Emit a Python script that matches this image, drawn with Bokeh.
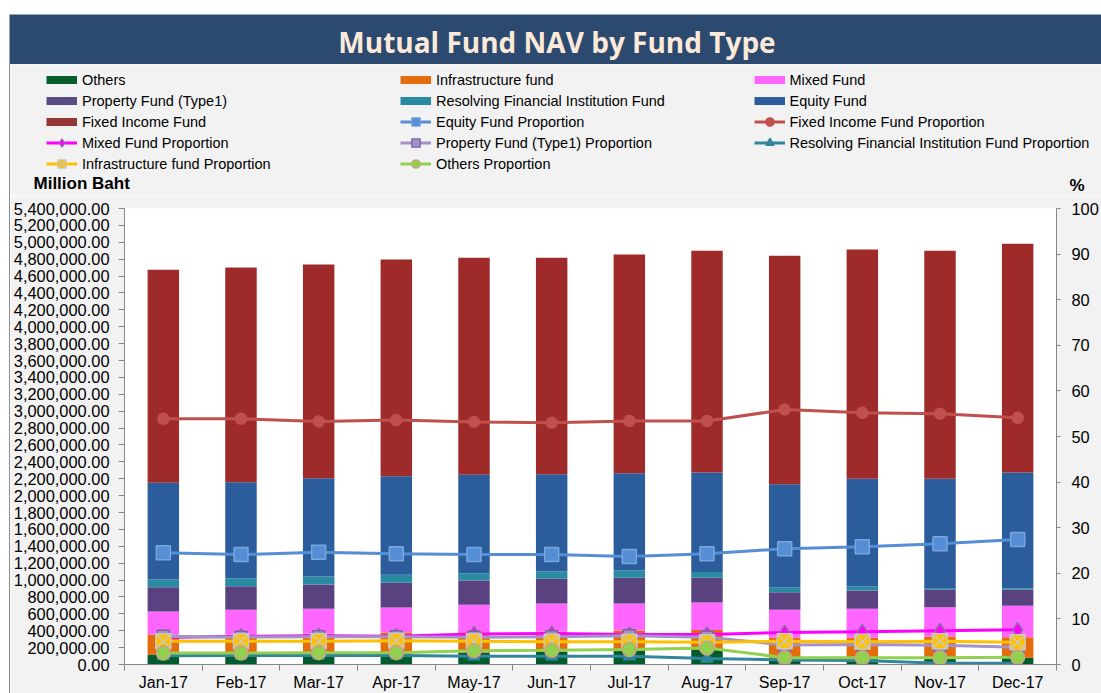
from bokeh.plotting import figure
from bokeh.layouts import column, row
from bokeh.models import (ColumnDataSource, Range1d, LinearAxis, FixedTicker,
                          NumeralTickFormatter, Legend, LegendItem, Label, Spacer)
from bokeh.embed import file_html
from bokeh.resources import INLINE

# ---------------- data ----------------
months = ["Jan-17", "Feb-17", "Mar-17", "Apr-17", "May-17", "Jun-17",
          "Jul-17", "Aug-17", "Sep-17", "Oct-17", "Nov-17", "Dec-17"]

others      = [118000, 118000, 120000, 120000, 140000, 150000, 160000, 180000, 70000, 75000, 75000, 80000]
infra       = [237000, 237000, 243000, 259000, 243000, 241000, 243000, 230000, 246000, 241000, 257000, 244000]
mixed       = [273000, 293000, 296000, 296000, 324000, 331000, 319000, 324000, 332000, 343000, 347000, 371000]
property1   = [288000, 280000, 288000, 292000, 288000, 293000, 304000, 292000, 209000, 217000, 205000, 189000]
resolving   = [91000, 94000, 95000, 95000, 87000, 86000, 87000, 68000, 59000, 52000, 14000, 20000]
equity      = [1144000, 1137000, 1165000, 1168000, 1164000, 1153000, 1153000, 1180000, 1219000, 1271000, 1303000, 1370000]
fixed       = [2523000, 2543000, 2530000, 2566000, 2570000, 2562000, 2590000, 2625000, 2705000, 2716000, 2700000, 2708000]

equity_pct    = [24.5, 24.1, 24.6, 24.3, 24.1, 24.1, 23.7, 24.3, 25.4, 25.8, 26.5, 27.4]
fixed_pct     = [53.9, 53.9, 53.3, 53.6, 53.2, 53.0, 53.4, 53.4, 55.9, 55.2, 55.0, 54.1]
mixed_pct     = [5.9, 6.2, 6.3, 6.2, 6.7, 6.8, 6.6, 6.6, 7.0, 7.2, 7.4, 7.6]
property_pct  = [6.2, 6.0, 6.1, 6.1, 6.0, 6.1, 6.3, 6.0, 4.3, 4.4, 4.2, 3.8]
resolving_pct = [1.9, 2.0, 2.0, 2.0, 1.8, 1.8, 1.8, 1.3, 1.0, 0.9, 0.3, 0.3]
infra_pct     = [5.1, 5.1, 5.1, 5.2, 5.1, 5.0, 5.0, 4.9, 5.1, 5.0, 5.1, 4.9]
others_pct    = [2.5, 2.5, 2.6, 2.6, 3.0, 3.1, 3.3, 3.6, 1.5, 1.5, 1.5, 1.6]

left_ticks = list(range(0, 5400001, 200000))
right_ticks = list(range(0, 101, 10))

TITLE = "Mutual Fund NAV by Fund Type"
Y_LEFT_LABEL = "Million Baht"
Y_RIGHT_LABEL = "%"

bar_names = ["Others", "Infrastructure fund", "Mixed Fund", "Property Fund (Type1)",
             "Resolving Financial Institution Fund", "Equity Fund", "Fixed Income Fund"]

W = 1101
LS = 10            # left white strip + border line
WI = W - LS        # inner width
GRAY = "#f2f2f2"
AX = "#868686"
FONT = "Liberation Sans"

# ---------------- title strip ----------------
TH = 64
ft = figure(width=W, height=TH, output_backend="svg", toolbar_location=None,
            x_range=Range1d(0, 1), y_range=Range1d(0, 1),
            x_axis_type=None, y_axis_type=None,
            min_border_top=14, min_border_left=9, min_border_right=0, min_border_bottom=0)
ft.frame_align = False
ft.background_fill_color = "#2c4a6f"
ft.border_fill_color = "#ffffff"
ft.outline_line_color = None
ft.xgrid.visible = False
ft.ygrid.visible = False
ft.add_layout(Label(x=556.5 - 9, y=23, x_units="screen", y_units="screen",
                    text=TITLE, text_align="center", text_baseline="middle",
                    text_font="Open Sans", text_font_style="bold",
                    text_font_size="28px", text_color="#fde9d9"))

# ---------------- legend strip ----------------
LH = 131
fl = figure(width=WI, height=LH, output_backend="svg", toolbar_location=None,
            x_range=Range1d(0, 1), y_range=Range1d(0, 1),
            x_axis_type=None, y_axis_type=None,
            min_border_top=0, min_border_left=0, min_border_right=0, min_border_bottom=0)
fl.frame_align = False
fl.background_fill_color = GRAY
fl.border_fill_color = GRAY
fl.outline_line_color = None
fl.xgrid.visible = False
fl.ygrid.visible = False

legend_bar_colors = ["#0a5c2c", "#e46c0a", "#ff66ff", "#5c4a84", "#2a8aa2", "#2b5c9c", "#953735"]

line_specs = [
    ("Equity Fund Proportion", "equity_pct", "#558ed5", "square", 14, "#558ed5", "#7aa6e0"),
    ("Fixed Income Fund Proportion", "fixed_pct", "#c0504d", "circle", 11, "#c0504d", "#c0504d"),
    ("Mixed Fund Proportion", "mixed_pct", "#ff00ff", "diamond", 15, "#ff00ff", "#8f6fa8"),
    ("Property Fund (Type1) Proportion", "property_pct", "#a393c8", "square", 12, "#a393c8", "#7a62a3"),
    ("Resolving Financial Institution Fund Proportion", "resolving_pct", "#31859c", "triangle", 12, "#31859c", "#31859c"),
    ("Infrastructure fund Proportion", "infra_pct", "#ffc000", "square_x", 15, "#ffc000", "#c8c8c8"),
    ("Others Proportion", "others_pct", "#92d050", "circle", 14, "#92d050", "#c9a27e"),
]

# legend key samples: single points placed outside the strip's visible range
OFF = [-10.0]
proxy = {}
for name, col in zip(bar_names, legend_bar_colors):
    proxy[name] = [fl.line(x=OFF, y=OFF, line_color=col, line_width=8)]
for name, key, col, mk, sz, fc, lc in line_specs:
    lr = fl.line(x=OFF, y=OFF, line_color=col, line_width=3)
    sr = fl.scatter(x=OFF, y=OFF, marker=mk, size=11, fill_color=fc,
                    line_color=lc, line_width=1.2)
    proxy[name] = [lr, sr]

cols = [
    (["Others", "Property Fund (Type1)", "Fixed Income Fund", "Mixed Fund Proportion",
      "Infrastructure fund Proportion"], 46 - LS, 21),
    (["Infrastructure fund", "Resolving Financial Institution Fund", "Equity Fund Proportion",
      "Property Fund (Type1) Proportion", "Others Proportion"], 400 - LS, 21),
    (["Mixed Fund", "Equity Fund", "Fixed Income Fund Proportion",
      "Resolving Financial Institution Fund Proportion"], 753.5 - LS, 42),
]
for names, lx, ly in cols:
    lg = Legend(items=[LegendItem(label=n, renderers=proxy[n]) for n in names],
                location=(lx, ly), orientation="vertical", glyph_width=31,
                glyph_height=21, label_height=21, label_standoff=5, spacing=0,
                padding=0, margin=0, border_line_color=None, background_fill_alpha=0,
                label_text_font=FONT, label_text_font_size="14.5px",
                label_text_color="#000000")
    fl.add_layout(lg, "center")

fl.add_layout(Label(x=33 - LS, y=LH - 183 + TH, x_units="screen", y_units="screen",
                    text=Y_LEFT_LABEL, text_align="left", text_baseline="middle",
                    text_font=FONT, text_font_style="bold", text_font_size="17px",
                    text_color="#000000"))
fl.add_layout(Label(x=1069 - LS, y=LH - 185 + TH, x_units="screen", y_units="screen",
                    text=Y_RIGHT_LABEL, text_align="left", text_baseline="middle",
                    text_font=FONT, text_font_style="bold", text_font_size="17px",
                    text_color="#000000"))

# ---------------- main chart ----------------
idx = list(range(len(months)))
src = ColumnDataSource(dict(x=idx, others=others, infra=infra, mixed=mixed,
                            property1=property1, resolving=resolving,
                            equity=equity, fixed=fixed,
                            equity_pct=equity_pct, fixed_pct=fixed_pct,
                            mixed_pct=mixed_pct, property_pct=property_pct,
                            resolving_pct=resolving_pct, infra_pct=infra_pct,
                            others_pct=others_pct))

MH = 693 - TH - LH
p = figure(width=WI, height=MH, output_backend="svg", toolbar_location=None,
           x_range=Range1d(-0.5, len(months) - 0.5), y_range=Range1d(0, 5400000),
           min_border_left=123 - LS, min_border_right=45, min_border_top=13,
           min_border_bottom=29)
p.frame_align = False
p.background_fill_color = "#ffffff"
p.border_fill_color = GRAY
p.outline_line_color = None
p.xgrid.visible = False
p.ygrid.visible = False
p.extra_y_ranges = {"pct": Range1d(0, 100)}

xa = p.xaxis[0]
xa.ticker = FixedTicker(ticks=idx, minor_ticks=[i - 0.5 for i in range(len(months) + 1)])
xa.major_label_overrides = {i: m for i, m in enumerate(months)}
xa.major_tick_out = 0
xa.major_tick_in = 0
xa.minor_tick_out = 6
xa.minor_tick_in = 0
xa.minor_tick_line_color = AX
xa.axis_line_color = AX
xa.major_label_standoff = 3
xa.major_label_text_font = FONT
xa.major_label_text_font_size = "16px"
xa.major_label_text_color = "#000000"

ya = p.yaxis[0]
ya.ticker = FixedTicker(ticks=left_ticks)
ya.formatter = NumeralTickFormatter(format="0,0.00")
ya.major_tick_out = 6
ya.major_tick_in = 0
ya.minor_tick_line_color = None
ya.axis_line_color = AX
ya.major_tick_line_color = AX
ya.major_label_standoff = 9
ya.major_label_text_font = FONT
ya.major_label_text_font_size = "16.4px"
ya.major_label_text_color = "#000000"

ra = LinearAxis(y_range_name="pct", ticker=FixedTicker(ticks=right_ticks))
ra.major_tick_out = 4
ra.major_tick_in = 0
ra.minor_tick_line_color = None
ra.axis_line_color = AX
ra.major_tick_line_color = AX
ra.major_label_standoff = 11
ra.major_label_text_font = FONT
ra.major_label_text_font_size = "16.4px"
ra.major_label_text_color = "#000000"
p.add_layout(ra, "right")

stack_keys = ["others", "infra", "mixed", "property1", "resolving", "equity", "fixed"]
bar_colors = ["#005c2c", "#e46c0a", "#ff66ff", "#5a4281", "#2a8aa2", "#2b5c9c", "#9e2b29"]
p.vbar_stack(stack_keys, x="x", width=0.405, fill_color=bar_colors,
             line_color=None, source=src)

for name, key, col, mk, sz, fc, lc in line_specs:
    p.line("x", key, source=src, y_range_name="pct", line_color=col, line_width=3)
    p.scatter("x", key, source=src, y_range_name="pct", marker=mk, size=sz,
              fill_color=fc, line_color=lc, line_width=1.5)

strip = Spacer(width=LS, height=LH + MH,
               styles={"background": "linear-gradient(to right, #ffffff 0px, #ffffff 9px, #8c8c8c 9px, #8c8c8c 10px)"})
layout = column(ft, row(strip, column(fl, p, spacing=0), spacing=0), spacing=0)
open("out.html", "w").write(file_html(layout, INLINE))
